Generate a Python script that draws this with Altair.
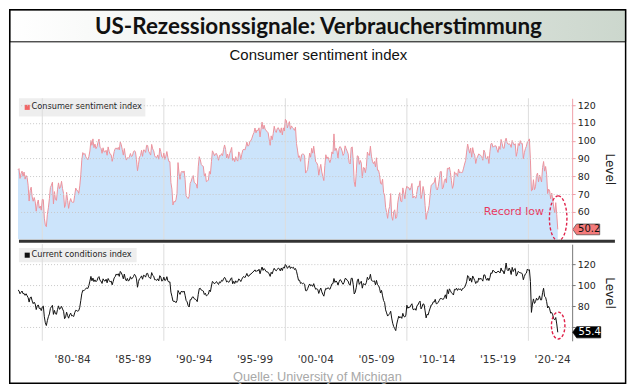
import altair as alt
import pandas as pd

# ---------------- data (monthly, Jan 1978 - Jun 2022) ----------------
start_year = 1978
sentiment = [
    83.7, 84.3, 78.8, 81.6, 82.9, 80.0, 82.4, 78.4, 80.4, 79.3, 75.0, 66.1,
    72.1, 73.9, 68.4, 66.0, 68.1, 65.8, 60.4, 64.5, 66.7, 62.1, 63.3, 61.0,
    67.0, 66.9, 56.5, 52.7, 51.7, 58.7, 62.3, 67.4, 73.7, 75.0, 76.7, 64.5,
    71.4, 66.9, 66.5, 72.4, 76.3, 73.1, 74.1, 77.2, 73.1, 70.3, 62.5, 64.3,
    71.0, 66.5, 62.0, 65.5, 67.5, 65.7, 65.4, 65.4, 69.3, 73.4, 72.1, 71.9,
    70.4, 74.6, 80.8, 89.1, 93.3, 92.2, 92.8, 90.9, 89.9, 89.3, 91.1, 94.2,
    100.1, 97.4, 101.0, 96.1, 98.1, 95.5, 96.6, 99.1, 100.9, 96.3, 95.7, 92.9,
    96.0, 93.7, 93.7, 94.6, 91.8, 96.5, 94.0, 92.4, 92.1, 88.4, 90.9, 93.9,
    95.6, 95.9, 95.1, 96.2, 94.8, 99.3, 97.7, 94.9, 91.9, 95.6, 91.4, 89.1,
    90.4, 90.2, 90.8, 92.8, 91.1, 91.5, 93.7, 94.4, 93.6, 89.3, 83.1, 86.8,
    90.8, 91.6, 94.6, 91.2, 94.8, 94.7, 93.4, 97.4, 97.3, 94.1, 93.0, 91.9,
    97.9, 95.4, 94.3, 91.5, 90.7, 90.6, 92.0, 89.6, 95.8, 93.9, 90.9, 90.5,
    93.0, 89.5, 91.3, 93.9, 90.6, 88.3, 88.2, 76.4, 72.8, 63.9, 66.0, 65.5,
    66.8, 70.4, 87.7, 81.8, 78.3, 82.1, 82.9, 82.0, 83.0, 78.3, 69.1, 68.2,
    67.5, 68.8, 76.0, 77.2, 79.2, 80.4, 76.6, 76.1, 75.6, 73.3, 85.3, 91.0,
    89.3, 86.6, 85.9, 85.6, 80.3, 81.5, 77.0, 77.3, 77.9, 82.7, 81.2, 88.2,
    94.3, 93.2, 91.5, 92.6, 92.8, 91.2, 89.0, 91.7, 91.5, 92.7, 91.6, 95.1,
    97.6, 95.1, 90.3, 92.5, 89.8, 92.7, 94.4, 96.2, 88.9, 90.2, 88.2, 91.0,
    89.3, 88.5, 93.7, 92.7, 89.4, 92.4, 94.7, 95.3, 94.7, 96.5, 99.2, 96.9,
    97.4, 99.7, 100.0, 101.4, 103.2, 104.5, 107.1, 104.4, 106.0, 105.6, 107.2, 102.1,
    106.6, 110.4, 106.5, 108.7, 106.5, 105.6, 105.2, 104.4, 100.9, 97.4, 102.7, 100.5,
    103.9, 108.1, 105.7, 104.6, 106.8, 107.3, 106.0, 104.5, 107.2, 103.2, 107.2, 105.4,
    112.0, 111.3, 107.1, 109.2, 110.7, 106.4, 108.3, 107.3, 106.8, 105.8, 107.6, 98.4,
    94.7, 90.6, 91.5, 88.4, 92.0, 92.6, 92.4, 91.5, 81.8, 82.7, 83.9, 88.8,
    93.0, 90.7, 95.7, 93.0, 96.9, 92.4, 88.1, 87.6, 86.1, 80.6, 84.2, 86.7,
    82.4, 79.9, 77.6, 86.0, 92.1, 89.7, 90.9, 89.3, 87.7, 89.6, 93.7, 92.6,
    103.8, 94.4, 95.8, 94.2, 90.2, 95.6, 96.7, 95.9, 94.2, 91.7, 92.8, 97.1,
    95.5, 94.1, 92.6, 87.7, 86.9, 96.0, 96.5, 89.1, 76.9, 74.2, 81.6, 91.5,
    91.2, 86.7, 88.9, 87.4, 79.1, 84.9, 84.7, 82.0, 85.4, 93.6, 92.1, 91.7,
    96.9, 91.3, 88.4, 87.1, 88.3, 85.3, 90.4, 83.4, 83.4, 80.9, 76.1, 75.5,
    78.4, 70.8, 69.5, 62.6, 59.8, 56.4, 61.2, 63.0, 70.3, 57.6, 55.3, 60.1,
    61.2, 56.3, 57.3, 65.1, 68.7, 70.8, 66.0, 65.7, 73.5, 70.6, 67.4, 72.5,
    74.4, 73.6, 73.6, 72.2, 73.6, 76.0, 67.8, 68.9, 68.2, 67.7, 71.6, 74.5,
    74.2, 77.5, 67.5, 69.8, 74.3, 71.5, 63.7, 55.8, 59.5, 60.8, 63.7, 69.9,
    75.0, 75.3, 76.2, 76.4, 79.3, 73.2, 72.3, 74.3, 78.3, 82.6, 82.7, 72.9,
    73.8, 77.6, 78.6, 76.4, 84.5, 84.1, 85.1, 82.1, 77.5, 73.2, 75.1, 82.5,
    81.2, 81.6, 80.0, 84.1, 81.9, 82.5, 81.8, 82.5, 84.6, 86.9, 88.8, 93.6,
    98.1, 95.4, 93.0, 95.9, 90.7, 96.1, 93.1, 91.9, 87.2, 90.0, 91.3, 92.6,
    92.0, 91.7, 91.0, 89.0, 94.7, 93.5, 90.0, 89.8, 91.2, 87.2, 93.8, 98.2,
    98.5, 96.3, 96.9, 97.0, 97.1, 95.1, 93.4, 96.8, 95.1, 100.7, 98.5, 95.9,
    95.7, 99.7, 101.4, 98.8, 98.0, 98.2, 97.9, 96.2, 100.1, 98.6, 97.5, 98.3,
    91.2, 93.8, 98.4, 97.2, 100.0, 98.2, 98.4, 89.8, 93.2, 95.5, 96.8, 99.3,
    99.8, 101.0, 89.1, 71.8, 72.3, 78.1, 72.5, 74.1, 80.4, 81.8, 76.9, 80.7,
    79.0, 76.8, 84.9, 88.3, 82.9, 85.5, 81.2, 70.3, 72.8, 71.7, 67.4, 70.6,
    67.2, 62.8, 59.4, 65.2, 58.4, 50.2,
]
current = [
    95.6, 94.8, 92.0, 93.4, 94.6, 92.0, 92.3, 90.5, 92.0, 90.1, 88.3, 84.1,
    88.2, 89.0, 85.1, 82.6, 84.0, 82.2, 77.0, 80.3, 81.4, 78.0, 78.3, 76.0,
    79.5, 80.3, 70.1, 64.4, 61.8, 66.5, 70.2, 72.8, 78.0, 79.8, 81.0, 72.4,
    76.2, 73.0, 72.5, 77.0, 80.5, 77.2, 78.4, 80.0, 77.5, 75.4, 68.3, 70.0,
    74.5, 71.2, 68.8, 71.9, 73.6, 71.0, 71.2, 70.4, 74.0, 76.3, 76.0, 75.4,
    76.0, 79.2, 85.5, 92.0, 95.3, 94.8, 96.0, 96.9, 97.5, 97.0, 99.8, 104.0,
    108.5, 104.3, 106.9, 103.5, 105.2, 103.4, 104.5, 107.2, 108.3, 104.6, 104.0, 101.8,
    106.2, 104.5, 104.0, 105.8, 102.4, 106.5, 104.6, 103.2, 104.1, 100.5, 103.7, 107.1,
    108.3, 110.8, 109.7, 111.0, 108.5, 113.2, 111.9, 109.6, 106.2, 110.7, 106.1, 104.3,
    106.6, 104.0, 105.1, 108.2, 105.9, 107.0, 108.3, 110.5, 109.3, 106.2, 98.2, 103.7,
    106.3, 107.1, 109.0, 105.8, 109.6, 109.2, 107.8, 111.2, 111.4, 108.2, 107.0, 106.4,
    112.1, 109.5, 108.7, 105.3, 105.4, 104.7, 106.2, 104.2, 109.2, 107.9, 104.0, 104.7,
    107.8, 104.6, 105.1, 108.2, 104.2, 103.0, 103.3, 93.5, 89.6, 85.1, 84.7, 84.8,
    83.5, 85.6, 95.1, 93.2, 91.4, 94.0, 94.3, 93.4, 94.6, 90.6, 85.7, 84.3,
    80.8, 79.4, 86.3, 86.4, 88.7, 89.1, 87.3, 86.8, 86.2, 84.5, 91.4, 96.9,
    97.2, 95.5, 95.1, 94.6, 91.3, 92.5, 90.0, 90.8, 91.6, 95.5, 94.0, 99.4,
    103.7, 102.9, 101.4, 102.5, 103.6, 102.0, 100.8, 103.3, 102.5, 104.8, 104.0, 106.2,
    107.6, 106.0, 103.2, 104.1, 102.8, 103.9, 106.1, 107.2, 101.5, 103.8, 101.7, 104.3,
    102.8, 103.5, 106.1, 105.3, 103.6, 105.8, 107.7, 108.4, 107.3, 109.0, 111.3, 108.8,
    108.7, 110.3, 110.6, 111.9, 112.5, 113.6, 114.7, 113.0, 114.1, 113.7, 115.3, 111.0,
    114.5, 117.4, 114.2, 116.0, 114.7, 113.1, 112.8, 112.4, 110.8, 108.5, 112.4, 110.9,
    113.9, 116.2, 114.5, 113.8, 115.0, 116.4, 115.8, 113.7, 116.5, 114.1, 117.2, 116.4,
    119.8, 118.7, 116.1, 117.3, 118.6, 116.0, 117.5, 116.4, 117.2, 115.0, 116.0, 113.4,
    109.1, 104.8, 104.9, 101.8, 102.5, 101.4, 102.0, 101.1, 95.0, 94.8, 96.8, 99.4,
    101.3, 99.5, 100.4, 99.0, 101.6, 98.4, 96.2, 96.8, 96.1, 92.3, 95.4, 97.4,
    93.8, 91.5, 89.7, 94.5, 97.2, 96.4, 97.8, 97.0, 96.2, 98.7, 101.4, 101.6,
    106.5, 102.8, 104.2, 103.1, 100.2, 103.3, 105.4, 104.7, 102.6, 101.0, 102.7, 106.5,
    106.3, 104.8, 104.0, 100.9, 100.1, 106.6, 106.8, 101.0, 91.8, 93.4, 97.7, 104.3,
    106.1, 100.9, 102.5, 103.9, 97.3, 101.6, 101.0, 100.5, 102.7, 107.7, 105.5, 106.3,
    110.5, 104.7, 104.1, 103.8, 104.3, 100.5, 104.7, 100.6, 99.8, 97.3, 92.7, 95.2,
    90.0, 85.5, 83.7, 76.7, 73.8, 70.8, 72.0, 73.1, 75.4, 68.9, 64.0, 60.8,
    58.9, 57.0, 63.2, 67.3, 70.7, 69.0, 70.2, 68.6, 73.4, 70.5, 69.9, 71.7,
    81.1, 78.2, 79.4, 79.1, 81.2, 82.5, 77.2, 76.8, 77.9, 76.3, 80.8, 81.4,
    83.7, 85.0, 77.6, 79.6, 82.4, 81.9, 75.7, 69.1, 72.6, 71.9, 75.4, 78.4,
    81.3, 81.7, 84.3, 84.1, 86.7, 82.5, 82.7, 84.0, 85.6, 87.5, 87.5, 86.9,
    86.7, 88.5, 91.0, 87.4, 95.9, 92.0, 96.7, 94.9, 92.9, 92.2, 90.8, 96.2,
    95.7, 97.3, 95.2, 96.8, 96.1, 96.6, 94.9, 97.0, 97.2, 98.2, 100.3, 103.3,
    109.3, 108.3, 104.2, 107.0, 103.0, 108.9, 106.8, 104.6, 101.7, 103.8, 102.9, 107.0,
    105.6, 106.8, 105.6, 104.0, 109.9, 109.9, 106.3, 104.8, 106.9, 104.5, 107.3, 111.9,
    111.3, 114.5, 113.2, 112.7, 111.7, 112.5, 113.4, 113.0, 111.8, 116.5, 113.6, 113.8,
    110.9, 114.9, 121.2, 114.9, 113.8, 116.5, 114.4, 110.3, 117.1, 113.1, 115.2, 116.1,
    108.8, 110.7, 113.3, 112.3, 111.9, 111.9, 110.7, 105.3, 108.5, 110.9, 111.6, 115.5,
    114.4, 114.8, 103.7, 74.3, 82.3, 87.1, 82.8, 84.5, 87.8, 85.9, 87.0, 90.0,
    86.2, 86.2, 93.0, 97.2, 89.4, 88.6, 84.5, 78.5, 80.1, 77.7, 73.6, 74.2,
    72.0, 68.2, 67.2, 69.4, 63.3, 55.4,
]
period_labels = ["'80-'84", "'85-'89", "'90-'94", "'95-'99", "'00-'04",
                 "'05-'09", "'10-'14", "'15-'19", "'20-'24"]
period_pos = [1982.5, 1987.5, 1992.5, 1997.5, 2002.5, 2007.5, 2012.5, 2017.5, 2022.0]
decade_lines = [1980, 1990, 2000, 2010, 2020]
top_ticks = [60, 70, 80, 90, 100, 110, 120]
bottom_ticks = [60, 80, 100, 120]
last_sentiment = 50.2
last_current = 55.4
ellipse_top = (2022.45, 56.4)
ellipse_bottom = (2022.45, 61.8)
record_text_pos = (2018.8, 60.0)

title_text = "US-Rezessionssignale: Verbraucherstimmung"
subtitle_text = "Consumer sentiment index"
source_text = "Quelle: University of Michigan"

# ---------------- layout helpers (reference px -> chart px) ----------------
SX, SY = 619 / 635, 376 / 392


def px(x):
    return (x - 10) * SX


def py(y):
    return (y - 93) * SY


W = px(579)
H_TOP = py(240.5)
BOT0 = py(245)
H_BOT = py(346) - BOT0
GAP = BOT0 - H_TOP


def pyb(y):
    return py(y) - BOT0


df = pd.DataFrame({
    "t": [start_year + i / 12 for i in range(len(sentiment))],
    "sentiment": sentiment,
    "current": current,
})

xs = alt.Scale(domain=[1978.08, 2023.6], nice=False, zero=False)
top_dom = [44.6, 123.8]
bot_dom = [47.3, 139.1]
ys_top = alt.Scale(domain=top_dom, nice=False, zero=False)
ys_bot = alt.Scale(domain=bot_dom, nice=False, zero=False)

FONT = "DejaVu Sans"

top_axis = alt.Axis(orient="right", values=top_ticks, domainColor="#f0a0a8",
                    tickColor="#f0a0a8", tickSize=3, labelColor="#222",
                    labelFont=FONT, labelFontSize=9.5, labelPadding=2,
                    title="Level", titleFont=FONT, titleFontSize=12,
                    titleFontWeight="normal", titleColor="#222", titlePadding=7,
                    grid=True, gridColor="#c8c8c8", gridDash=[1, 2], zindex=1)
# the lowest label sits behind the value box in the reference
bot_axis = alt.Axis(orient="right", values=bottom_ticks, domainColor="#777",
                    tickColor="#777", tickSize=3, labelColor="#222",
                    labelFont=FONT, labelFontSize=9.5, labelPadding=2,
                    labelExpr="datum.value < 70 ? '' : datum.label",
                    title="Level", titleFont=FONT, titleFontSize=12,
                    titleFontWeight="normal", titleColor="#222", titlePadding=7,
                    grid=True, gridColor="#c8c8c8", gridDash=[1, 2])

X = alt.X("t:Q", scale=xs, axis=None)
YT = alt.Y("sentiment:Q", scale=ys_top, axis=top_axis)
YB = alt.Y("current:Q", scale=ys_bot, axis=bot_axis)
one = pd.DataFrame({"k": [0]})
box_path = "M-1,0 L-0.72,-0.4 L1,-0.4 L1,0.4 L-0.72,0.4 Z"

# ---------------- decorations living in the top panel ----------------
grad = alt.Gradient(gradient="linear",
                    stops=[alt.GradientStop(color="#ffffff", offset=0),
                           alt.GradientStop(color="#f3f5f3", offset=0.25),
                           alt.GradientStop(color="#ccd7cd", offset=1)],
                    x1=0, x2=1, y1=0, y2=0)
banner = alt.Chart(one).mark_rect(color=grad, stroke="#000", strokeWidth=1).encode(
    x=alt.value(px(0.5)), x2=alt.value(px(634)), y=alt.value(py(0.5)), y2=alt.value(py(34)))
border = alt.Chart(one).mark_rect(filled=False, stroke="#000", strokeWidth=1.5).encode(
    x=alt.value(px(0.5)), x2=alt.value(px(634)), y=alt.value(py(0.5)), y2=alt.value(py(391)))
title = alt.Chart(pd.DataFrame({"s": [title_text]})).mark_text(
    font="Lato", fontWeight="bold", fontSize=22.5, color="#111").encode(
    x=alt.value(px(318)), y=alt.value(py(19)), text="s:N")
subtitle = alt.Chart(pd.DataFrame({"s": [subtitle_text]})).mark_text(
    font="Liberation Sans", fontSize=15, color="#111").encode(
    x=alt.value(px(318)), y=alt.value(py(48)), text="s:N")
separator = alt.Chart(one).mark_rule(color="#333", strokeWidth=3).encode(
    x=alt.value(px(10)), x2=alt.value(px(623)), y=alt.value(py(242.5)))
leg1_box = alt.Chart(one).mark_rect(color="#ececec", opacity=0.9).encode(
    x=alt.value(px(10)), x2=alt.value(px(140)), y=alt.value(py(93)), y2=alt.value(py(112)))
leg1_sym = alt.Chart(one).mark_square(color="#f26565", size=26, opacity=1).encode(
    x=alt.value(px(18.5)), y=alt.value(py(102.5)))
leg1_txt = alt.Chart(pd.DataFrame({"s": ["Consumer sentiment index"]})).mark_text(
    font=FONT, fontSize=8.2, color="#222", align="left").encode(
    x=alt.value(px(23)), y=alt.value(py(102.5)), text="s:N")

# ---------------- top panel ----------------
area = alt.Chart(df).mark_area(color="#cce4fb").encode(
    x=X, y=YT, y2=alt.datum(top_dom[0]))
vrules_top = alt.Chart(pd.DataFrame({"t": decade_lines})).mark_rule(
    color="#dddddd", strokeWidth=1).encode(x=X, y=alt.value(0), y2=alt.value(H_TOP))
line_top = alt.Chart(df).mark_line(color="#ec939d", strokeWidth=1).encode(x=X, y=YT)
rec_df = pd.DataFrame({"t": [record_text_pos[0]], "sentiment": [record_text_pos[1]],
                       "label": ["Record low"]})
rec_text = alt.Chart(rec_df).mark_text(font=FONT, fontSize=11, color="#e8365d").encode(
    x=X, y=YT, text="label:N")
ell_top_df = pd.DataFrame({"t": [ellipse_top[0]], "sentiment": [ellipse_top[1]]})
ell_top = alt.Chart(ell_top_df).mark_point(
    shape="M0,-1 A0.39,1 0 1,1 0,1 A0.39,1 0 1,1 0,-1 Z", size=45 ** 2,
    filled=False, color="#e0224a", strokeWidth=1.4, strokeDash=[3, 2], opacity=1).encode(
    x=X, y=YT)
last_top_df = pd.DataFrame({"sentiment": [last_sentiment]})
box_top = alt.Chart(last_top_df).mark_point(
    shape=box_path, size=27 ** 2, filled=True, fill="#f47a7a", stroke="#444",
    strokeWidth=0.7, opacity=1).encode(x=alt.value(px(593.5)), y=YT)
txt_top = alt.Chart(last_top_df).mark_text(font=FONT, fontSize=10, color="#111").encode(
    x=alt.value(px(596.5)), y=YT, text=alt.Text("sentiment:Q", format=".1f"))

top = alt.layer(
    banner, border, title, subtitle, leg1_box,
    area, vrules_top, line_top, rec_text, ell_top, box_top, txt_top,
    separator, leg1_sym, leg1_txt,
).properties(width=W, height=H_TOP)

# ---------------- bottom panel ----------------
vrules_bot = alt.Chart(pd.DataFrame({"t": decade_lines})).mark_rule(
    color="#dddddd", strokeWidth=1).encode(x=X, y=alt.value(0), y2=alt.value(H_BOT))
line_bot = alt.Chart(df).mark_line(color="#111", strokeWidth=1).encode(x=X, y=YB)
ell_bot_df = pd.DataFrame({"t": [ellipse_bottom[0]], "current": [ellipse_bottom[1]]})
ell_bot = alt.Chart(ell_bot_df).mark_point(
    shape="M0,-1 A0.5,1 0 1,1 0,1 A0.5,1 0 1,1 0,-1 Z", size=27 ** 2,
    filled=False, color="#e0224a", strokeWidth=1.4, strokeDash=[3, 2], opacity=1).encode(
    x=X, y=YB)
last_bot_df = pd.DataFrame({"current": [last_current]})
box_bot = alt.Chart(last_bot_df).mark_point(
    shape=box_path, size=28 ** 2, filled=True, fill="#000", stroke="#000",
    strokeWidth=0.7, opacity=1).encode(x=alt.value(px(594)), y=YB)
txt_bot = alt.Chart(last_bot_df).mark_text(font=FONT, fontSize=10, color="#fff").encode(
    x=alt.value(px(597)), y=YB, text=alt.Text("current:Q", format=".1f"))
leg2_box = alt.Chart(one).mark_rect(color="#ececec", opacity=0.9).encode(
    x=alt.value(px(10)), x2=alt.value(px(131)), y=alt.value(pyb(249)), y2=alt.value(pyb(264)))
leg2_sym = alt.Chart(one).mark_square(color="#111", size=26, opacity=1).encode(
    x=alt.value(px(18.5)), y=alt.value(pyb(256.5)))
leg2_txt = alt.Chart(pd.DataFrame({"s": ["Current conditions index"]})).mark_text(
    font=FONT, fontSize=8.2, color="#222", align="left").encode(
    x=alt.value(px(23)), y=alt.value(pyb(256.5)), text="s:N")
xlab = alt.Chart(pd.DataFrame({"t": period_pos, "s": period_labels})).mark_text(
    font=FONT, fontSize=10.5, color="#333").encode(
    x=X, y=alt.value(pyb(366.5)), text="s:N")
source = alt.Chart(pd.DataFrame({"s": [source_text]})).mark_text(
    font="Liberation Sans", fontSize=12.8, color="#a8a8a8").encode(
    x=alt.value(px(317)), y=alt.value(pyb(383.5)), text="s:N")

bottom = alt.layer(
    leg2_box, vrules_bot, line_bot, ell_bot, box_bot, txt_bot,
    leg2_sym, leg2_txt, xlab, source,
).properties(width=W, height=H_BOT)

chart = alt.vconcat(top, bottom, spacing=GAP, bounds="flush").properties(
    padding=0, background="white"
).configure_view(stroke=None)

chart.save("out.html", embed_options={"renderer": "svg", "actions": False})
